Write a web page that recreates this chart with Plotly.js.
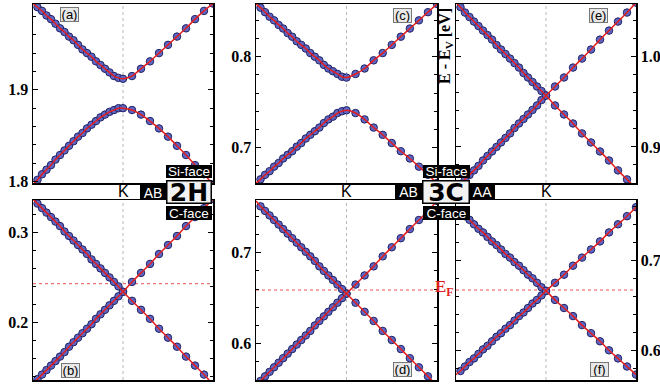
<!DOCTYPE html>
<html><head><meta charset="utf-8">
<script src="https://cdn.plot.ly/plotly-3.0.1.min.js"></script>
<style>html,body{margin:0;padding:0;background:#fff}#chart{width:660px;height:388px}</style>
</head><body><div id="chart"></div>
<script>
// k measured from the K point (panel half-width = 1)
const kPoints = [-1,-0.95,-0.9,-0.85,-0.8,-0.75,-0.7,-0.65,-0.6,-0.55,-0.5,-0.45,-0.4,-0.35,-0.3,-0.25,-0.2,-0.15,-0.1,-0.05,0,0.1,0.2,0.3,0.4,0.5,0.6,0.7,0.8,0.9,1.0];
const kLabel = 'K';
const kPosition = 0;

// (a) 2H Si-face
const a_upper = [1.994,1.990,1.986,1.981,1.977,1.972,1.967,1.963,1.958,1.954,1.949,1.944,1.940,1.936,1.931,1.927,1.923,1.919,1.915,1.913,1.912,1.915,1.923,1.931,1.940,1.949,1.958,1.967,1.977,1.986,1.994];
const a_lower = [1.797,1.802,1.808,1.813,1.818,1.824,1.829,1.834,1.839,1.844,1.849,1.853,1.858,1.862,1.866,1.870,1.873,1.876,1.878,1.880,1.880,1.878,1.873,1.866,1.858,1.849,1.839,1.829,1.818,1.808,1.797];
const a_ticks = [1.8, 1.9];
const a_tickText = ['1.8', '1.9'];
// (b) 2H C-face
const b_down = [0.337,0.332,0.327,0.322,0.317,0.312,0.307,0.301,0.296,0.291,0.286,0.281,0.276,0.270,0.265,0.260,0.255,0.250,0.245,0.240,0.234,0.224,0.214,0.204,0.193,0.183,0.173,0.162,0.152,0.142,0.131];
const b_up = [0.131,0.137,0.142,0.147,0.152,0.157,0.162,0.167,0.173,0.178,0.183,0.188,0.193,0.198,0.204,0.209,0.214,0.219,0.224,0.229,0.234,0.245,0.255,0.265,0.276,0.286,0.296,0.307,0.317,0.327,0.337];
const b_ticks = [0.2, 0.3];
const b_tickText = ['0.2', '0.3'];
// (c) 3C AB Si-face
const c_upper = [0.858,0.854,0.849,0.844,0.840,0.835,0.831,0.826,0.822,0.817,0.813,0.809,0.804,0.800,0.796,0.791,0.787,0.784,0.781,0.778,0.777,0.781,0.787,0.796,0.804,0.813,0.822,0.831,0.840,0.849,0.858];
const c_lower = [0.661,0.665,0.670,0.674,0.679,0.683,0.688,0.692,0.696,0.701,0.705,0.710,0.714,0.718,0.722,0.727,0.731,0.734,0.738,0.740,0.741,0.738,0.731,0.722,0.714,0.705,0.696,0.688,0.679,0.670,0.661];
const c_ticks = [0.7, 0.8];
const c_tickText = ['0.7', '0.8'];
// (d) 3C AB C-face
const d_down = [0.757,0.751,0.746,0.741,0.736,0.731,0.726,0.721,0.716,0.711,0.706,0.701,0.696,0.691,0.685,0.680,0.675,0.670,0.665,0.660,0.655,0.645,0.635,0.625,0.614,0.604,0.594,0.584,0.574,0.564,0.554];
const d_up = [0.554,0.559,0.564,0.569,0.574,0.579,0.584,0.589,0.594,0.599,0.604,0.609,0.614,0.620,0.625,0.630,0.635,0.640,0.645,0.650,0.655,0.665,0.675,0.685,0.696,0.706,0.716,0.726,0.736,0.746,0.757];
const d_ticks = [0.6, 0.7];
const d_tickText = ['0.6', '0.7'];
// (e) 3C AA Si-face
const e_down = [1.060,1.055,1.049,1.044,1.039,1.034,1.029,1.024,1.019,1.013,1.008,1.003,0.998,0.993,0.988,0.982,0.977,0.972,0.967,0.962,0.957,0.946,0.936,0.926,0.915,0.905,0.895,0.885,0.874,0.864,0.854];
const e_up = [0.854,0.859,0.864,0.869,0.874,0.879,0.885,0.890,0.895,0.900,0.905,0.910,0.915,0.921,0.926,0.931,0.936,0.941,0.946,0.952,0.957,0.967,0.977,0.988,0.998,1.008,1.019,1.029,1.039,1.049,1.060];
const e_ticks = [0.9, 1.0];
const e_tickText = ['0.9', '1.0'];
// (f) 3C AA C-face
const f_down = [0.759,0.754,0.749,0.745,0.740,0.735,0.731,0.726,0.721,0.717,0.712,0.707,0.703,0.698,0.694,0.689,0.684,0.680,0.675,0.670,0.666,0.656,0.647,0.638,0.628,0.619,0.610,0.600,0.591,0.582,0.573];
const f_up = [0.573,0.577,0.582,0.587,0.591,0.596,0.601,0.605,0.610,0.615,0.619,0.624,0.628,0.633,0.638,0.642,0.647,0.652,0.656,0.661,0.666,0.675,0.684,0.694,0.703,0.712,0.721,0.731,0.740,0.749,0.759];
const f_ticks = [0.6, 0.7];
const f_tickText = ['0.6', '0.7'];

// Fermi levels in the C-face panels (b, d, f)
const fermiLevels = [0.243, 0.659, 0.667];
const panelLetters = ['(a)','(b)','(c)','(d)','(e)','(f)'];

const W = 660, H = 388;
const px = x => x / W, py = y => 1 - y / H;

const panels = [
  {id:'',  bands:[a_upper,a_lower], tv:a_ticks, tt:a_tickText, box:[33,213,4,183],   range:[1.7985,1.9935], side:'left'},
  {id:'2', bands:[b_down,b_up],     tv:b_ticks, tt:b_tickText, box:[33,213,200,380], range:[0.136,0.336],   side:'left',  ef:0},
  {id:'3', bands:[c_upper,c_lower], tv:c_ticks, tt:c_tickText, box:[256,437,4,183],  range:[0.661,0.858],   side:'left'},
  {id:'4', bands:[d_down,d_up],     tv:d_ticks, tt:d_tickText, box:[256,437,200,380],range:[0.560,0.758],   side:'left',  ef:1},
  {id:'5', bands:[e_down,e_up],     tv:e_ticks, tt:e_tickText, box:[456,636,4,183],  range:[0.860,1.0585],  side:'right'},
  {id:'6', bands:[f_down,f_up],     tv:f_ticks, tt:f_tickText, box:[456,636,200,380],range:[0.567,0.767],   side:'right', ef:2}
];

const serif = 'Liberation Serif';
const traces = [];
const layout = {
  width: W, height: H, margin:{l:0,r:0,t:0,b:0},
  paper_bgcolor:'#fff', plot_bgcolor:'#fff', showlegend:false,
  font:{family:serif, size:16, color:'#000'},
  shapes:[], annotations:[]
};

panels.forEach(p => {
  const xa = 'x' + p.id, ya = 'y' + p.id;
  p.bands.forEach(b => {
    traces.push({x:kPoints.slice(1), y:b.slice(1), xaxis:xa, yaxis:ya, type:'scatter', mode:'markers',
      marker:{size:7.5, color:'rgb(92,102,196)', line:{color:'rgb(35,35,100)', width:1}}, hoverinfo:'skip'});
  });
  p.bands.forEach(b => {
    traces.push({x:kPoints, y:b, xaxis:xa, yaxis:ya, type:'scatter', mode:'lines',
      line:{color:'rgb(228,30,30)', width:1.5, shape:'spline', smoothing:0.6}, hoverinfo:'skip'});
  });
  const [x0,x1,y0,y1] = p.box;
  layout['xaxis' + p.id] = {domain:[px(x0),px(x1)], range:[-1,1], anchor:ya, showline:true, mirror:true,
    linecolor:'#000', linewidth:1.5, ticks:'', showticklabels:false, showgrid:false, zeroline:false};
  layout['yaxis' + p.id] = {domain:[py(y1),py(y0)], range:p.range, anchor:xa, side:p.side,
    showline:true, mirror:'ticks', linecolor:'#000', linewidth:1.5,
    ticks:'inside', ticklen:5, tickwidth:1, tickcolor:'#000',
    tickmode:'array', tickvals:p.tv, ticktext:p.tt.map(t => '<b>' + t + '</b>'),
    minor:{tickmode:'linear', dtick:0.02, tick0:0, ticks:'inside', ticklen:3, tickwidth:1, tickcolor:'#000'},
    showgrid:false, zeroline:false,
    tickfont:{family:serif, size:16, color:'#000'}};
  layout.shapes.push({type:'line', xref:xa, yref:ya+' domain', x0:kPosition, x1:kPosition, y0:0, y1:1,
    line:{color:'#b8b8b8', width:1, dash:'dot'}, layer:'below'});
  if (p.ef !== undefined) {
    const v = fermiLevels[p.ef];
    layout.shapes.push({type:'line', xref:xa+' domain', yref:ya, x0:0, x1:1, y0:v, y1:v,
      line:{color:'#e85050', width:1, dash:'dot'}, layer:'below'});
  }
});

function box(text, cx, cy, w, h, opt) {
  opt = opt || {};
  layout.annotations.push({text:text, xref:'paper', yref:'paper', x:px(cx), y:py(cy),
    xanchor:'center', yanchor:'middle', showarrow:false, width:w, height:h, borderpad:0,
    bgcolor:opt.bg || '#000', bordercolor:opt.bc || '#000', borderwidth:opt.bw || 0,
    font:opt.font || {family:'Liberation Sans', size:14, color:'#fff'}});
}
function label(text, cx, cy, font, angle) {
  layout.annotations.push({text:text, xref:'paper', yref:'paper', x:px(cx), y:py(cy),
    xanchor:'center', yanchor:'middle', showarrow:false, font:font, textangle:angle || 0});
}

// panel letters
const letterPos = [[69.5,15],[70,370],[402.5,16],[402.5,369.5],[598.5,16],[599.5,369.5]];
panelLetters.forEach((t,i) => box(t, letterPos[i][0], letterPos[i][1], 17, 13,
  {bg:'#e8e8e8', bc:'#777', bw:1, font:{family:'Liberation Sans', size:13, color:'#000'}}));

// K labels in the strip
[123, 346.5, 546].forEach(x => label(kLabel, x, 191.5, {family:'Liberation Sans', size:16, color:'#000'}));

const bigFont = {family:'DejaVu Sans', size:25, color:'#000'};
const faceFont = {family:'Liberation Sans', size:13.5, color:'#fff'};
// 2H group
box('AB', 153, 192, 26, 15);
box('Si-face', 189, 171.5, 46, 13, {font:faceFont});
box('<b>2H</b>', 189, 192, 43, 21, {bg:'#f2f2f2', bc:'#000', bw:1.5, font:bigFont});
box('C-face', 189, 213, 46, 14, {font:faceFont});
// 3C group
box('AB', 408, 191.5, 27, 15);
box('Si-face', 446, 171.5, 47, 13, {font:faceFont});
box('<b>3C</b>', 446, 192, 45, 21, {bg:'#f2f2f2', bc:'#000', bw:1.5, font:bigFont});
box('C-face', 446, 213, 47, 14, {font:faceFont});
box('AA', 482.5, 191.5, 25, 15);

label('<b>E - E<sub>V</sub> [eV]</b>', 445, 46, {family:serif, size:16, color:'#000'}, -90);
label('<b>E<sub>F</sub></b>', 445, 288, {family:serif, size:17, color:'#e02020'});

Plotly.newPlot('chart', traces, layout, {staticPlot:true, displayModeBar:false});
</script></body></html>
